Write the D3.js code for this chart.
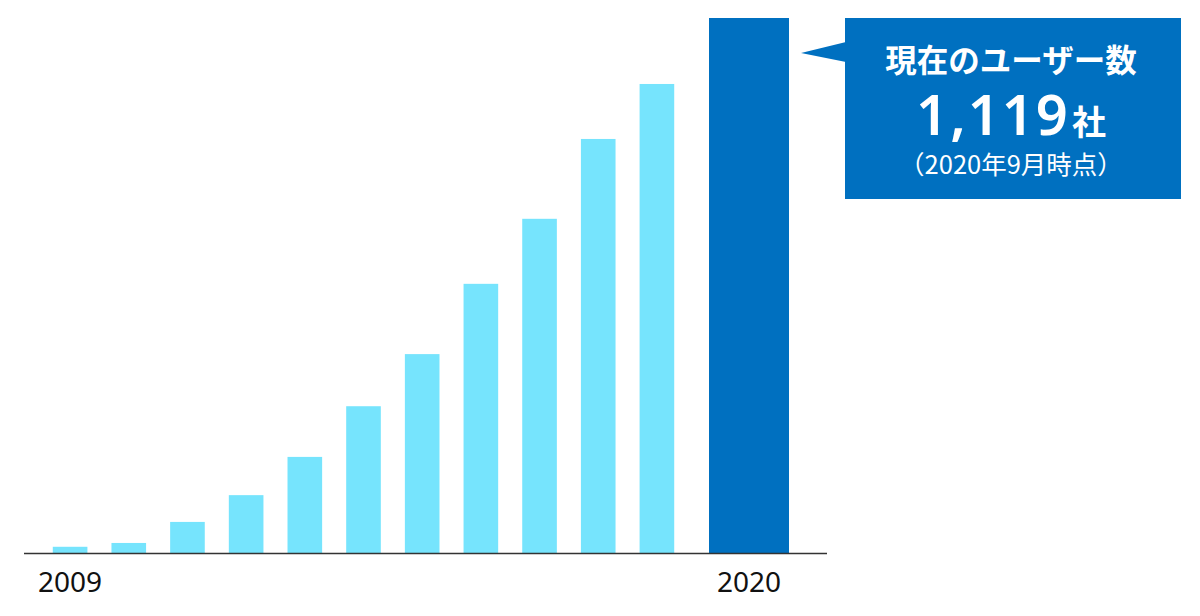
<!DOCTYPE html>
<html><head><meta charset="utf-8">
<script src="https://cdn.jsdelivr.net/npm/d3@7/dist/d3.min.js"></script>
<style>html,body{margin:0;padding:0;background:#fff;}svg{display:block;}</style>
</head><body>
<svg id="chart" width="1200" height="616"></svg>
<script>
const years = [2009, 2010, 2011, 2012, 2013, 2014, 2015, 2016, 2017, 2018, 2019, 2020];
const users = [13, 21, 65, 121, 201, 307, 416, 563, 699, 866, 981, 1119];
const tickLabels = ["2009", "2020"];
const calloutTitle = "現在のユーザー数";
const calloutValue = "1,119";
const calloutUnit = "社";
const calloutNote = "（2020年9月時点）";

const svg = d3.select("#chart");
const baseY = 553, topY = 18;
const y = d3.scaleLinear().domain([0, d3.max(users)]).range([baseY, topY]);

const regular = years.slice(0, -1);
const x = d3.scaleBand().domain(regular).range([40.75, 686.25]).paddingInner(0.41).paddingOuter(0.205);
const lastYear = years[years.length - 1];
const xLast = d3.scaleBand().domain([lastYear]).range([709, 789]);

const data = years.map((yr, i) => ({year: yr, value: users[i]}));

svg.append("g").selectAll("rect")
  .data(data)
  .join("rect")
  .attr("x", d => d.year === lastYear ? xLast(d.year) : x(d.year))
  .attr("width", d => d.year === lastYear ? xLast.bandwidth() : x.bandwidth())
  .attr("y", d => y(d.value))
  .attr("height", d => baseY - y(d.value))
  .attr("fill", d => d.year === lastYear ? "#0070C0" : "#76E4FD");

svg.append("line")
  .attr("x1", 24).attr("x2", 827).attr("y1", baseY + 0.5).attr("y2", baseY + 0.5)
  .attr("stroke", "#333").attr("stroke-width", 1.3);

const labelX = lbl => {
  const yr = +lbl;
  return yr === lastYear ? xLast(yr) + xLast.bandwidth() / 2 : x(yr) + x.bandwidth() / 2;
};
svg.append("g").selectAll("text")
  .data(tickLabels)
  .join("text")
  .attr("x", d => labelX(d))
  .attr("y", 592)
  .attr("text-anchor", "middle")
  .attr("font-family", "'Noto Sans', 'DejaVu Sans', sans-serif")
  .attr("font-size", 28)
  .attr("fill", "#111")
  .text(d => d);

// callout
const box = {x: 845, y: 18, w: 336, h: 181};
svg.append("path")
  .attr("d", `M${box.x + 1},42 L801,53 L${box.x + 1},62 Z`)
  .attr("fill", "#0070C0");
svg.append("rect")
  .attr("x", box.x).attr("y", box.y).attr("width", box.w).attr("height", box.h)
  .attr("fill", "#0070C0");
const cx = box.x + box.w / 2 - 2;
const cjk = "'Noto Sans CJK JP', 'Noto Sans', sans-serif";
svg.append("text")
  .attr("x", cx).attr("y", 72)
  .attr("text-anchor", "middle")
  .attr("font-family", cjk).attr("font-weight", 700).attr("font-size", 31.5)
  .attr("fill", "#fff")
  .text(calloutTitle);
const vt = svg.append("text")
  .attr("x", cx).attr("y", 135)
  .attr("text-anchor", "middle")
  .attr("font-family", cjk).attr("font-weight", 700)
  .attr("fill", "#fff");
vt.append("tspan").attr("font-size", 56).attr("font-family", "'Noto Sans', sans-serif").attr("font-weight", 600).attr("letter-spacing", 2).text(calloutValue);
vt.append("tspan").attr("font-size", 34).attr("dx", 2).text(calloutUnit);
svg.append("text")
  .attr("x", cx).attr("y", 174)
  .attr("text-anchor", "middle")
  .attr("font-family", cjk).attr("font-size", 25.5)
  .attr("fill", "#fff")
  .text(calloutNote);
</script>
</body></html>
